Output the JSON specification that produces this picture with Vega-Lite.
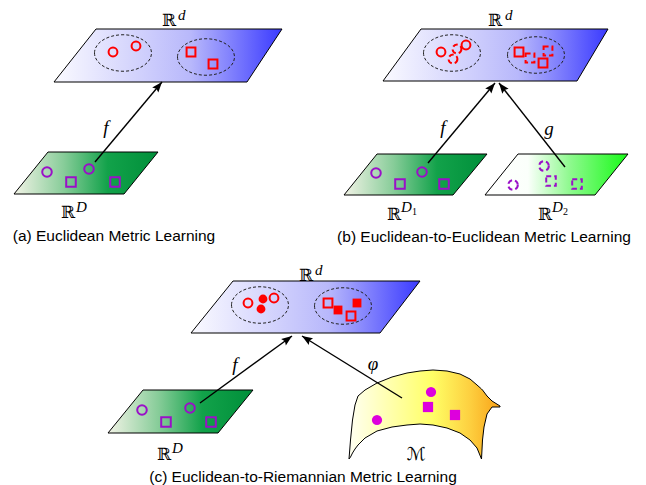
{
  "$schema": "https://vega.github.io/schema/vega-lite/v6.json",
  "width": 646,
  "height": 485,
  "autosize": "none",
  "padding": 0,
  "background": "white",
  "config": {"view": {"stroke": null}},
  "datasets": {
    "planes": [
      {"id": "a_top", "space": "target", "y": 29, "xl": 96, "xr": 282},
      {"id": "a_top", "space": "target", "y": 82, "xl": 54, "xr": 247},
      {"id": "b_top", "space": "target", "y": 29, "xl": 421, "xr": 608},
      {"id": "b_top", "space": "target", "y": 81, "xl": 383, "xr": 577},
      {"id": "c_top", "space": "target", "y": 281, "xl": 233, "xr": 420},
      {"id": "c_top", "space": "target", "y": 333, "xl": 191, "xr": 380},
      {"id": "a_src", "space": "source", "y": 152, "xl": 48, "xr": 158},
      {"id": "a_src", "space": "source", "y": 194, "xl": 14, "xr": 124},
      {"id": "b_src1", "space": "source", "y": 154, "xl": 377, "xr": 487},
      {"id": "b_src1", "space": "source", "y": 195, "xl": 344, "xr": 453},
      {"id": "c_src", "space": "source", "y": 390, "xl": 143, "xr": 253},
      {"id": "c_src", "space": "source", "y": 433, "xl": 108, "xr": 218},
      {"id": "b_src2", "space": "source2", "y": 154, "xl": 518, "xr": 628},
      {"id": "b_src2", "space": "source2", "y": 195, "xl": 485, "xr": 595}
    ],
    "manifold": [
      {"x": 349, "top": 459, "bot": 459},
      {"x": 350.5, "top": 440, "bot": 457},
      {"x": 352.5, "top": 420, "bot": 453},
      {"x": 355, "top": 405, "bot": 449},
      {"x": 358, "top": 396, "bot": 445},
      {"x": 365, "top": 390, "bot": 438},
      {"x": 377, "top": 383, "bot": 431},
      {"x": 392, "top": 377, "bot": 427},
      {"x": 407, "top": 373, "bot": 425},
      {"x": 420, "top": 371, "bot": 424},
      {"x": 433, "top": 370, "bot": 425},
      {"x": 447, "top": 371, "bot": 428},
      {"x": 460, "top": 374, "bot": 433},
      {"x": 470, "top": 379, "bot": 440},
      {"x": 477, "top": 385, "bot": 448},
      {"x": 481.5, "top": 389, "bot": 459},
      {"x": 482.5, "top": 390, "bot": 440},
      {"x": 484, "top": 392, "bot": 427},
      {"x": 487, "top": 396, "bot": 414},
      {"x": 492, "top": 401, "bot": 407},
      {"x": 500, "top": 406, "bot": 407}
    ],
    "ellipses": [
      {"x": 123, "y": 53}, {"x": 206, "y": 57},
      {"x": 452, "y": 53}, {"x": 536, "y": 55},
      {"x": 260, "y": 305}, {"x": 343, "y": 306}
    ],
    "markers": [
      {"x": 113, "y": 52, "class": "c1", "cls": "target", "style": "open"},
      {"x": 136, "y": 46, "class": "c1", "cls": "target", "style": "open"},
      {"x": 191, "y": 52, "class": "c2", "cls": "target", "style": "open"},
      {"x": 213, "y": 64, "class": "c2", "cls": "target", "style": "open"},
      {"x": 47, "y": 172, "class": "c1", "cls": "source", "style": "open"},
      {"x": 89, "y": 169, "class": "c1", "cls": "source", "style": "open"},
      {"x": 71, "y": 182, "class": "c2", "cls": "source", "style": "open"},
      {"x": 115, "y": 182, "class": "c2", "cls": "source", "style": "open"},
      {"x": 441, "y": 52, "class": "c1", "cls": "target", "style": "open"},
      {"x": 466, "y": 45, "class": "c1", "cls": "target", "style": "open"},
      {"x": 457, "y": 49, "class": "c1", "cls": "target", "style": "dashed"},
      {"x": 453, "y": 59, "class": "c1", "cls": "target", "style": "dashed"},
      {"x": 519, "y": 52, "class": "c2", "cls": "target", "style": "open"},
      {"x": 543, "y": 63, "class": "c2", "cls": "target", "style": "open"},
      {"x": 530, "y": 58, "class": "c2", "cls": "target", "style": "dashed"},
      {"x": 548, "y": 51, "class": "c2", "cls": "target", "style": "dashed"},
      {"x": 376, "y": 173, "class": "c1", "cls": "source", "style": "open"},
      {"x": 422, "y": 172, "class": "c1", "cls": "source", "style": "open"},
      {"x": 400, "y": 184, "class": "c2", "cls": "source", "style": "open"},
      {"x": 444, "y": 184, "class": "c2", "cls": "source", "style": "open"},
      {"x": 513, "y": 185, "class": "c1", "cls": "source", "style": "dashed"},
      {"x": 544, "y": 166, "class": "c1", "cls": "source", "style": "dashed"},
      {"x": 551, "y": 181, "class": "c2", "cls": "source", "style": "dashed"},
      {"x": 577, "y": 184, "class": "c2", "cls": "source", "style": "dashed"},
      {"x": 248, "y": 303, "class": "c1", "cls": "target", "style": "open"},
      {"x": 263, "y": 299, "class": "c1", "cls": "target", "style": "filled"},
      {"x": 261, "y": 309, "class": "c1", "cls": "target", "style": "filled"},
      {"x": 274, "y": 298, "class": "c1", "cls": "target", "style": "open"},
      {"x": 328, "y": 303, "class": "c2", "cls": "target", "style": "open"},
      {"x": 338, "y": 310, "class": "c2", "cls": "target", "style": "filled"},
      {"x": 357, "y": 303, "class": "c2", "cls": "target", "style": "filled"},
      {"x": 351, "y": 316, "class": "c2", "cls": "target", "style": "open"},
      {"x": 142, "y": 410, "class": "c1", "cls": "source", "style": "open"},
      {"x": 190, "y": 408, "class": "c1", "cls": "source", "style": "open"},
      {"x": 166, "y": 422, "class": "c2", "cls": "source", "style": "open"},
      {"x": 211, "y": 422, "class": "c2", "cls": "source", "style": "open"},
      {"x": 377, "y": 420, "class": "c1", "cls": "manifold", "style": "filled"},
      {"x": 431, "y": 392, "class": "c1", "cls": "manifold", "style": "filled"},
      {"x": 428, "y": 407, "class": "c2", "cls": "manifold", "style": "filled"},
      {"x": 455, "y": 415, "class": "c2", "cls": "manifold", "style": "filled"}
    ],
    "arrows": [
      {"x0": 95, "y0": 162, "tx": 162, "ty": 82, "ang": 40},
      {"x0": 428, "y0": 163, "tx": 495, "ty": 83, "ang": 40},
      {"x0": 565, "y0": 167, "tx": 499, "ty": 83, "ang": -38},
      {"x0": 200, "y0": 403, "tx": 292, "ty": 336, "ang": 54},
      {"x0": 402, "y0": 398, "tx": 302, "ty": 336, "ang": -58}
    ],
    "labels": [
      {"role": "R", "x": 162, "y": 26, "t": "ℝ"},
      {"role": "sup", "x": 178, "y": 20, "t": "d"},
      {"role": "R", "x": 61, "y": 218, "t": "ℝ"},
      {"role": "sup", "x": 76, "y": 212, "t": "D"},
      {"role": "R", "x": 488, "y": 26, "t": "ℝ"},
      {"role": "sup", "x": 505, "y": 20, "t": "d"},
      {"role": "R", "x": 387, "y": 220, "t": "ℝ"},
      {"role": "sup", "x": 401, "y": 212, "t": "D"},
      {"role": "sub", "x": 412, "y": 215, "t": "1"},
      {"role": "R", "x": 538, "y": 220, "t": "ℝ"},
      {"role": "sup", "x": 552, "y": 212, "t": "D"},
      {"role": "sub", "x": 563, "y": 215, "t": "2"},
      {"role": "R", "x": 299, "y": 281, "t": "ℝ"},
      {"role": "sup", "x": 315, "y": 275, "t": "d"},
      {"role": "R", "x": 157, "y": 460, "t": "ℝ"},
      {"role": "sup", "x": 172, "y": 453, "t": "D"},
      {"role": "M", "x": 416, "y": 460, "t": "ℳ"},
      {"role": "fn", "x": 106, "y": 128, "t": "f"},
      {"role": "fn", "x": 443, "y": 128, "t": "f"},
      {"role": "fn", "x": 549, "y": 129, "t": "g"},
      {"role": "fn", "x": 235, "y": 365, "t": "f"},
      {"role": "fn", "x": 373, "y": 364, "t": "φ"},
      {"role": "cap", "x": 114, "y": 236, "t": "(a) Euclidean Metric Learning"},
      {"role": "cap", "x": 484, "y": 237, "t": "(b) Euclidean-to-Euclidean Metric Learning"},
      {"role": "cap", "x": 303, "y": 477, "t": "(c) Euclidean-to-Riemannian Metric Learning"}
    ]
  },
  "layer": [
    {
      "data": {"name": "planes"},
      "transform": [{"filter": "datum.space === 'target'"}],
      "mark": {"type": "area", "orient": "horizontal", "stroke": "black", "strokeWidth": 1, "fillOpacity": 1,
        "fill": {"gradient": "linear", "x1": 0, "y1": 0, "x2": 1, "y2": 0,
          "stops": [{"offset": 0, "color": "#fafaff"}, {"offset": 0.6, "color": "#b8b8fb"}, {"offset": 1, "color": "#3a3aff"}]}},
      "encoding": {
        "y": {"field": "y", "type": "quantitative", "scale": {"domain": [0, 485], "reverse": true, "nice": false, "zero": false}, "axis": null},
        "x": {"field": "xl", "type": "quantitative", "scale": {"domain": [0, 646], "nice": false, "zero": false}, "axis": null, "stack": null},
        "x2": {"field": "xr"},
        "detail": {"field": "id"}
      }
    },
    {
      "data": {"name": "planes"},
      "transform": [{"filter": "datum.space === 'source'"}],
      "mark": {"type": "area", "orient": "horizontal", "stroke": "black", "strokeWidth": 1, "fillOpacity": 1,
        "fill": {"gradient": "linear", "x1": 0, "y1": 0, "x2": 1, "y2": 0,
          "stops": [{"offset": 0, "color": "#f2f3e6"}, {"offset": 0.35, "color": "#86cc98"}, {"offset": 0.65, "color": "#12a24a"}, {"offset": 1, "color": "#008f3a"}]}},
      "encoding": {
        "y": {"field": "y", "type": "quantitative", "axis": null},
        "x": {"field": "xl", "type": "quantitative", "axis": null, "stack": null},
        "x2": {"field": "xr"},
        "detail": {"field": "id"}
      }
    },
    {
      "data": {"name": "planes"},
      "transform": [{"filter": "datum.space === 'source2'"}],
      "mark": {"type": "area", "orient": "horizontal", "stroke": "black", "strokeWidth": 1, "fillOpacity": 1,
        "fill": {"gradient": "linear", "x1": 0, "y1": 0, "x2": 1, "y2": 0,
          "stops": [{"offset": 0, "color": "#ffffff"}, {"offset": 0.3, "color": "#fbfffb"}, {"offset": 0.6, "color": "#8cf98c"}, {"offset": 1, "color": "#18fa18"}]}},
      "encoding": {
        "y": {"field": "y", "type": "quantitative", "axis": null},
        "x": {"field": "xl", "type": "quantitative", "axis": null, "stack": null},
        "x2": {"field": "xr"},
        "detail": {"field": "id"}
      }
    },
    {
      "data": {"name": "manifold"},
      "mark": {"type": "area", "orient": "vertical", "stroke": "black", "strokeWidth": 1, "fillOpacity": 1,
        "fill": {"gradient": "linear", "x1": 0, "y1": 0, "x2": 1, "y2": 0,
          "stops": [{"offset": 0, "color": "#fffff2"}, {"offset": 0.55, "color": "#ffff66"}, {"offset": 0.8, "color": "#fdd040"}, {"offset": 1, "color": "#f9a218"}]}},
      "encoding": {
        "x": {"field": "x", "type": "quantitative", "axis": null},
        "y": {"field": "top", "type": "quantitative", "axis": null, "stack": null},
        "y2": {"field": "bot"}
      }
    },
    {
      "data": {"name": "ellipses"},
      "mark": {"type": "point", "filled": false, "stroke": "#222222", "strokeWidth": 1, "strokeDash": [3, 2], "opacity": 1,
        "shape": "M-1,0A1,0.64,0,1,0,1,0A1,0.64,0,1,0,-1,0Z", "size": 3249},
      "encoding": {
        "x": {"field": "x", "type": "quantitative", "axis": null},
        "y": {"field": "y", "type": "quantitative", "axis": null}
      }
    },
    {
      "data": {"name": "markers"},
      "transform": [{"filter": "datum.style === 'open'"}],
      "mark": {"type": "point", "filled": false, "strokeWidth": 2, "opacity": 1},
      "encoding": {
        "x": {"field": "x", "type": "quantitative", "axis": null},
        "y": {"field": "y", "type": "quantitative", "axis": null},
        "shape": {"field": "class", "type": "nominal", "scale": {"domain": ["c1", "c2"], "range": ["circle", "square"]}, "legend": null},
        "color": {"field": "cls", "type": "nominal", "scale": {"domain": ["target", "source", "manifold"], "range": ["#ff0000", "#9a10c8", "#dd00dd"]}, "legend": null},
        "size": {"field": "cls", "type": "ordinal", "scale": {"domain": ["target", "source", "manifold"], "range": [78, 105, 110]}, "legend": null}
      }
    },
    {
      "data": {"name": "markers"},
      "transform": [{"filter": "datum.style === 'dashed'"}],
      "mark": {"type": "point", "filled": false, "strokeWidth": 2, "strokeDash": [5, 3], "opacity": 1},
      "encoding": {
        "x": {"field": "x", "type": "quantitative", "axis": null},
        "y": {"field": "y", "type": "quantitative", "axis": null},
        "shape": {"field": "class", "type": "nominal", "scale": {"domain": ["c1", "c2"], "range": ["circle", "square"]}, "legend": null},
        "color": {"field": "cls", "type": "nominal", "scale": {"domain": ["target", "source", "manifold"], "range": ["#ff0000", "#9a10c8", "#dd00dd"]}, "legend": null},
        "size": {"field": "cls", "type": "ordinal", "scale": {"domain": ["target", "source", "manifold"], "range": [78, 105, 110]}, "legend": null}
      }
    },
    {
      "data": {"name": "markers"},
      "transform": [{"filter": "datum.style === 'filled'"}],
      "mark": {"type": "point", "filled": true, "opacity": 1},
      "encoding": {
        "x": {"field": "x", "type": "quantitative", "axis": null},
        "y": {"field": "y", "type": "quantitative", "axis": null},
        "shape": {"field": "class", "type": "nominal", "scale": {"domain": ["c1", "c2"], "range": ["circle", "square"]}, "legend": null},
        "color": {"field": "cls", "type": "nominal", "scale": {"domain": ["target", "source", "manifold"], "range": ["#ff0000", "#9a10c8", "#dd00dd"]}, "legend": null},
        "size": {"field": "cls", "type": "ordinal", "scale": {"domain": ["target", "source", "manifold"], "range": [110, 130, 130]}, "legend": null}
      }
    },
    {
      "data": {"name": "arrows"},
      "mark": {"type": "rule", "color": "black", "strokeWidth": 1.4},
      "encoding": {
        "x": {"field": "x0", "type": "quantitative", "axis": null},
        "y": {"field": "y0", "type": "quantitative", "axis": null},
        "x2": {"field": "tx"},
        "y2": {"field": "ty"}
      }
    },
    {
      "data": {"name": "arrows"},
      "mark": {"type": "point", "filled": true, "color": "black", "opacity": 1, "size": 100,
        "shape": "M0,0L-0.8,2.1L0,1.75L0.8,2.1Z"},
      "encoding": {
        "x": {"field": "tx", "type": "quantitative", "axis": null},
        "y": {"field": "ty", "type": "quantitative", "axis": null},
        "angle": {"field": "ang", "type": "quantitative", "scale": null}
      }
    },
    {
      "data": {"name": "labels"},
      "transform": [{"filter": "datum.role === 'R'"}],
      "mark": {"type": "text", "font": "DejaVu Serif", "fontSize": 17, "align": "left", "baseline": "alphabetic", "color": "black"},
      "encoding": {
        "x": {"field": "x", "type": "quantitative", "axis": null},
        "y": {"field": "y", "type": "quantitative", "axis": null},
        "text": {"field": "t"}
      }
    },
    {
      "data": {"name": "labels"},
      "transform": [{"filter": "datum.role === 'M'"}],
      "mark": {"type": "text", "font": "DejaVu Sans", "fontSize": 18, "align": "center", "baseline": "alphabetic", "color": "black"},
      "encoding": {
        "x": {"field": "x", "type": "quantitative", "axis": null},
        "y": {"field": "y", "type": "quantitative", "axis": null},
        "text": {"field": "t"}
      }
    },
    {
      "data": {"name": "labels"},
      "transform": [{"filter": "datum.role === 'sup'"}],
      "mark": {"type": "text", "font": "Liberation Serif", "fontStyle": "italic", "fontSize": 15, "align": "left", "baseline": "alphabetic", "color": "black"},
      "encoding": {
        "x": {"field": "x", "type": "quantitative", "axis": null},
        "y": {"field": "y", "type": "quantitative", "axis": null},
        "text": {"field": "t"}
      }
    },
    {
      "data": {"name": "labels"},
      "transform": [{"filter": "datum.role === 'sub'"}],
      "mark": {"type": "text", "font": "Liberation Serif", "fontSize": 10, "align": "left", "baseline": "alphabetic", "color": "black"},
      "encoding": {
        "x": {"field": "x", "type": "quantitative", "axis": null},
        "y": {"field": "y", "type": "quantitative", "axis": null},
        "text": {"field": "t"}
      }
    },
    {
      "data": {"name": "labels"},
      "transform": [{"filter": "datum.role === 'fn'"}],
      "mark": {"type": "text", "font": "Liberation Serif", "fontStyle": "italic", "fontSize": 19, "align": "center", "baseline": "middle", "color": "black"},
      "encoding": {
        "x": {"field": "x", "type": "quantitative", "axis": null},
        "y": {"field": "y", "type": "quantitative", "axis": null},
        "text": {"field": "t"}
      }
    },
    {
      "data": {"name": "labels"},
      "transform": [{"filter": "datum.role === 'cap'"}],
      "mark": {"type": "text", "font": "Liberation Sans", "fontSize": 15.5, "align": "center", "baseline": "middle", "color": "black"},
      "encoding": {
        "x": {"field": "x", "type": "quantitative", "axis": null},
        "y": {"field": "y", "type": "quantitative", "axis": null},
        "text": {"field": "t"}
      }
    }
  ]
}
